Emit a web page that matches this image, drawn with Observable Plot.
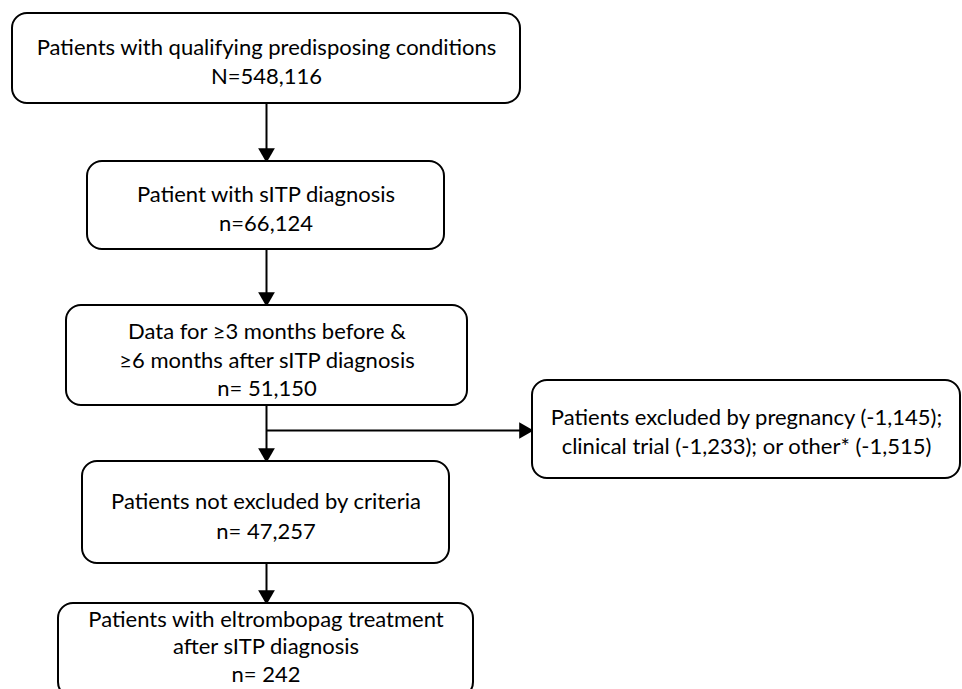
<!DOCTYPE html>
<html><head><meta charset="utf-8">
<script src="https://cdn.jsdelivr.net/npm/d3@7"></script>
<script src="https://cdn.jsdelivr.net/npm/@observablehq/plot@0.6"></script>
<style>body{margin:0;background:#fff} #chart{width:962px;height:689px;overflow:hidden}</style>
</head><body><div id="chart"></div>
<script>
// Flowchart content
const stepLabels = [
  "Patients with qualifying predisposing conditions",
  "Patient with sITP diagnosis",
  "Data for \u22653 months before &\n\u22656 months after sITP diagnosis",
  "Patients excluded by pregnancy (-1,145);\nclinical trial (-1,233); or other* (-1,515)",
  "Patients not excluded by criteria",
  "Patients with eltrombopag treatment\nafter sITP diagnosis"
];
const stepCounts = ["N=548,116", "n=66,124", "n= 51,150", "", "n= 47,257", "n= 242"];
const flowEdges = [[0, 1], [1, 2], [2, 4], [4, 5]];
const branchEdge = [2, 3];

// Layout (positions in the page's coordinate space)
const boxLeft   = [12, 87, 66, 532, 82, 58];
const boxRight  = [520, 444, 467, 960, 449, 473];
const boxTop    = [13, 161, 305, 380, 461, 603];
const boxBottom = [103, 249, 405, 478, 563, 697];
const textMid   = [60, 207, 358, 430, 514, 645];
const textLead  = [1.32, 1.32, 1.3, 1.32, 1.36, 1.24];
const flowX = 266;
const branchY = 430;

const boxes = stepLabels.map((label, i) => ({
  text: stepCounts[i] ? label + "\n" + stepCounts[i] : label,
  x1: boxLeft[i], x2: boxRight[i], y1: boxTop[i], y2: boxBottom[i],
  cx: (boxLeft[i] + boxRight[i]) / 2, ty: textMid[i], lead: textLead[i]
}));

const headOffset = 8.5;
const lines = flowEdges.map(([a, b]) => ({x1: flowX, y1: boxBottom[a], x2: flowX, y2: boxTop[b] - headOffset}));
lines.push({x1: flowX, y1: branchY, x2: boxLeft[branchEdge[1]] - headOffset, y2: branchY});
const heads = flowEdges.map(([a, b]) => ({x: flowX, y: boxTop[b] - headOffset, rot: 180}));
heads.push({x: boxLeft[branchEdge[1]] - headOffset, y: branchY, rot: 90});

const chart = Plot.plot({
  width: 962, height: 689,
  margin: 0,
  x: {domain: [0, 962], range: [0, 962], axis: null},
  y: {domain: [0, 689], range: [0, 689], axis: null},
  style: {background: "white", fontFamily: "Lato"},
  marks: [
    Plot.link(lines, {x1: "x1", y1: "y1", x2: "x2", y2: "y2", stroke: "black", strokeWidth: 2}),
    Plot.dot(heads, {x: "x", y: "y", symbol: "triangle", r: 6.2, fill: "black", stroke: "none", rotate: "rot"}),
    Plot.rect(boxes, {x1: "x1", x2: "x2", y1: "y1", y2: "y2", fill: "white", stroke: "black", strokeWidth: 2, rx: 15, ry: 15}),
    ...boxes.map(b => Plot.text([b], {x: "cx", y: "ty", text: "text", fontSize: 22, lineHeight: b.lead, lineAnchor: "middle", fill: "black", fontFamily: "Lato"}))
  ]
});
document.getElementById("chart").appendChild(chart);
</script>
</body></html>
